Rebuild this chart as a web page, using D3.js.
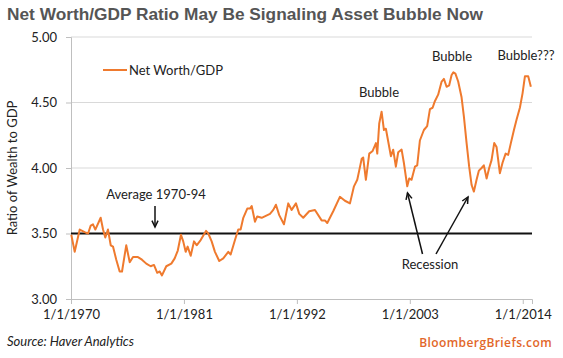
<!DOCTYPE html>
<html><head><meta charset="utf-8">
<script src="https://cdn.jsdelivr.net/npm/d3@7"></script>
<style>body{margin:0;background:#fff}svg{display:block}</style>
</head><body>
<script>
const years = [1970.03,1970.36,1970.85,1971.33,1971.66,1971.92,1972.14,1972.37,1972.89,1973.12,1973.34,1973.60,1973.87,1974.09,1974.41,1974.74,1974.97,1975.38,1975.72,1976.04,1976.52,1976.91,1977.33,1977.76,1978.08,1978.40,1978.64,1978.86,1979.28,1979.77,1980.10,1980.40,1980.71,1980.93,1981.17,1981.36,1981.66,1981.98,1982.24,1982.63,1983.15,1983.37,1983.70,1984.02,1984.44,1984.83,1985.32,1985.55,1985.97,1986.29,1986.52,1986.78,1987.17,1987.43,1987.60,1987.92,1988.14,1988.57,1989.38,1989.70,1989.96,1990.28,1990.74,1991.16,1991.49,1991.91,1992.23,1992.62,1993.20,1993.76,1994.41,1994.73,1994.96,1995.54,1996.19,1996.68,1997.17,1997.56,1997.88,1998.07,1998.31,1998.46,1998.72,1999.05,1999.38,1999.70,1999.83,2000.02,2000.25,2000.48,2000.67,2000.90,2001.16,2001.38,2001.64,2001.87,2002.20,2002.42,2002.75,2002.94,2003.17,2003.50,2003.72,2003.98,2004.37,2004.69,2004.96,2005.22,2005.44,2005.76,2006.10,2006.32,2006.58,2006.83,2007.07,2007.24,2007.44,2007.71,2008.04,2008.27,2008.53,2008.78,2009.02,2009.24,2009.50,2009.73,2009.99,2010.21,2010.48,2010.73,2010.96,2011.22,2011.45,2011.77,2012.03,2012.33,2012.58,2012.84,2013.14,2013.40,2013.72,2013.98,2014.21,2014.53,2014.79];
const ratio = [3.49,3.36,3.53,3.51,3.50,3.56,3.57,3.53,3.62,3.53,3.47,3.53,3.41,3.40,3.30,3.21,3.21,3.41,3.28,3.32,3.32,3.30,3.27,3.25,3.26,3.20,3.21,3.18,3.25,3.27,3.31,3.37,3.49,3.44,3.36,3.40,3.33,3.44,3.41,3.45,3.52,3.50,3.44,3.36,3.29,3.31,3.36,3.34,3.45,3.53,3.53,3.62,3.69,3.69,3.71,3.59,3.63,3.62,3.65,3.68,3.72,3.64,3.57,3.73,3.68,3.73,3.65,3.62,3.67,3.68,3.60,3.60,3.58,3.67,3.78,3.75,3.73,3.86,3.91,3.98,4.07,4.08,3.91,4.11,4.13,4.19,4.11,4.34,4.43,4.29,4.30,4.20,4.09,4.14,4.01,4.12,4.14,4.04,3.86,3.92,3.91,4.01,4.02,4.21,4.29,4.32,4.45,4.46,4.51,4.56,4.66,4.68,4.62,4.63,4.71,4.73,4.72,4.66,4.54,4.39,4.19,4.01,3.87,3.82,3.91,3.98,4.00,4.02,3.92,4.00,4.06,4.19,4.16,3.96,4.04,4.11,4.10,4.19,4.29,4.37,4.46,4.57,4.70,4.70,4.62];
const xTickYears = [1970,1981,1992,2003,2014];
const xTickLabels = ["1/1/1970","1/1/1981","1/1/1992","1/1/2003","1/1/2014"];
const yTicks = [3.00,3.50,4.00,4.50,5.00];
const averageValue = 3.50;

const W = 563, H = 358;
const svg = d3.select("body").append("svg").attr("width", W).attr("height", H);
const x = d3.scaleLinear().domain([1970, 2014.9]).range([71, 532]);
const y = d3.scaleLinear().domain([3, 5]).range([299, 37]);
const font = "Lato, 'Open Sans', sans-serif";

// title
svg.append("text").attr("x", 7).attr("y", 20).text("Net Worth/GDP Ratio May Be Signaling Asset Bubble Now")
  .attr("font-family", "'Liberation Sans', Arial, sans-serif").attr("font-weight", "bold")
  .attr("font-size", 17.3).attr("fill", "#555");

// gridlines
svg.append("g").selectAll("line").data(yTicks.filter(d => d > 3)).join("line")
  .attr("x1", x(1970)).attr("x2", x(2014.9)).attr("y1", d => y(d)).attr("y2", d => y(d))
  .attr("stroke", "#d9d9d9").attr("stroke-width", 1);

// y axis
const yAxis = svg.append("g").attr("transform", `translate(${x(1970)},0)`)
  .call(d3.axisLeft(y).tickValues(yTicks).tickFormat(d3.format(".2f")).tickSizeOuter(0).tickSize(5).tickPadding(9));
yAxis.select(".domain").attr("stroke", "#bfbfbf");
yAxis.selectAll(".tick line").attr("stroke", "#bfbfbf");
yAxis.selectAll("text").attr("font-family", font).attr("font-size", 13).attr("fill", "#222");

// x axis
const xAxis = svg.append("g").attr("transform", `translate(0,${y(3)})`)
  .call(d3.axisBottom(x).tickValues(xTickYears).tickFormat((d, i) => xTickLabels[i]).tickSizeOuter(0).tickSize(5).tickPadding(6));
xAxis.select(".domain").attr("stroke", "#bfbfbf");
xAxis.selectAll(".tick line").attr("stroke", "#bfbfbf");
xAxis.selectAll("text").attr("font-family", font).attr("font-size", 13).attr("fill", "#222");

// y title
svg.append("text").attr("transform", `translate(17,168) rotate(-90)`).attr("text-anchor", "middle")
  .text("Ratio of Wealth to GDP").attr("font-family", font).attr("font-size", 13).attr("fill", "#222");

// average line
svg.append("line").attr("x1", x(1970)).attr("x2", x(2014.9)).attr("y1", y(averageValue)).attr("y2", y(averageValue))
  .attr("stroke", "#111").attr("stroke-width", 2);

// series line
const line = d3.line().x((d, i) => x(years[i])).y(d => y(d));
svg.append("path").attr("d", line(ratio)).attr("fill", "none").attr("stroke", "#ef7a2e").attr("stroke-width", 2)
  .attr("stroke-linejoin", "round");

// legend
svg.append("line").attr("x1", 103).attr("x2", 127).attr("y1", 70).attr("y2", 70).attr("stroke", "#ef7a2e").attr("stroke-width", 2);
svg.append("text").attr("x", 129).attr("y", 74.5).text("Net Worth/GDP").attr("font-family", font).attr("font-size", 13).attr("fill", "#222");

// annotations
function ann(tx, ty, t) {
  svg.append("text").attr("x", tx).attr("y", ty).attr("text-anchor", "middle").text(t)
    .attr("font-family", font).attr("font-size", 13).attr("fill", "#222");
}
ann(156, 199, "Average 1970-94");
ann(379, 97, "Bubble");
ann(452, 61, "Bubble");
ann(526, 60, "Bubble???");
ann(430, 269, "Recession");

function arrow(x1, y1, x2, y2) {
  svg.append("line").attr("x1", x1).attr("y1", y1).attr("x2", x2).attr("y2", y2).attr("stroke", "#111").attr("stroke-width", 1.5);
  const a = Math.atan2(y2 - y1, x2 - x1), L = 7, s = 0.45;
  const p = `M${x2 - L*Math.cos(a - s)},${y2 - L*Math.sin(a - s)}L${x2},${y2}L${x2 - L*Math.cos(a + s)},${y2 - L*Math.sin(a + s)}`;
  svg.append("path").attr("d", p).attr("fill", "none").attr("stroke", "#111").attr("stroke-width", 1.5);
}
arrow(155, 206, 155, 227);
arrow(422.5, 254, 407.5, 193);
arrow(436, 254, 468, 197);

// footer
svg.append("text").attr("x", 7).attr("y", 346).text("Source: Haver Analytics")
  .attr("font-family", font).attr("font-style", "italic").attr("font-size", 13).attr("fill", "#222");
svg.append("text").attr("x", 552).attr("y", 347).attr("text-anchor", "end").text("BloombergBriefs.com")
  .attr("font-family", "'Open Sans', Arial, sans-serif").attr("font-weight", 600).attr("font-size", 12)
  .attr("fill", "#e2672a").attr("letter-spacing", 0.4);
</script>
</body></html>
